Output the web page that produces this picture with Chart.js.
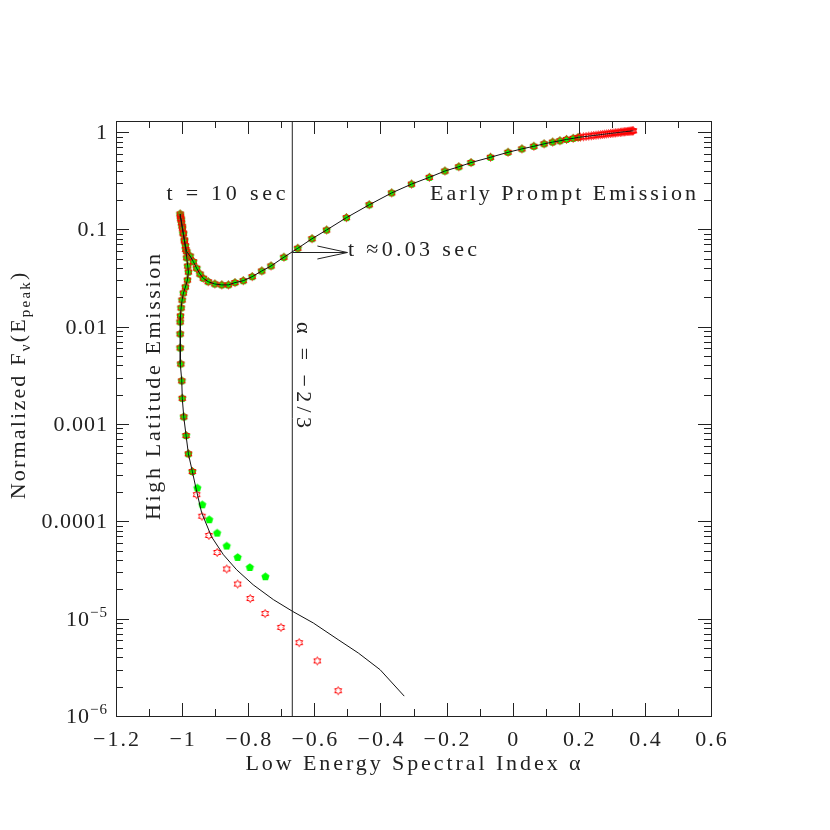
<!DOCTYPE html>
<html><head><meta charset="utf-8">
<script src="https://cdn.jsdelivr.net/npm/chart.js@4.4.1/dist/chart.umd.min.js"></script>
<style>html,body{margin:0;padding:0;background:#fff;}canvas{display:block;}</style>
</head><body>
<canvas id="c" width="830" height="830"></canvas>
<script>
// ---------------- data ----------------
// dense early points at top right (red stars only), right -> left
const denseAlpha = [0.365,0.363,0.361,0.358,0.355,0.352,0.349,0.346,0.342,0.338,0.334,0.330,0.326,0.321,0.316,0.311,0.306,0.301,0.296,0.290,0.284,0.278,0.272,0.266,0.259,0.252,0.245,0.238,0.230,0.222,0.214,0.205];
const denseFlux  = [1.032,1.030,1.028,1.026,1.023,1.020,1.018,1.015,1.011,1.008,1.004,1.000,0.996,0.992,0.987,0.982,0.978,0.973,0.969,0.963,0.958,0.952,0.947,0.941,0.935,0.929,0.923,0.917,0.909,0.902,0.895,0.888];
// early prompt branch (both marker series), right -> peak at t = 10 s
const promptAlpha = [0.198,0.183,0.163,0.143,0.121,0.095,0.064,0.028,-0.014,-0.067,-0.126,-0.163,-0.205,-0.252,-0.306,-0.366,-0.434,-0.503,-0.563,-0.607,-0.650,-0.692,-0.731,-0.759,-0.788,-0.815,-0.840,-0.860,-0.880,-0.901,-0.921,-0.936,-0.946,-0.956,-0.966,-0.976,-0.986,-0.990,-0.993,-0.996,-0.999,-1.002,-1.004,-1.006];
const promptFlux  = [0.882,0.862,0.841,0.814,0.789,0.757,0.715,0.672,0.620,0.551,0.486,0.440,0.398,0.343,0.292,0.237,0.179,0.132,0.0986,0.0802,0.0640,0.0518,0.0421,0.0374,0.0327,0.0297,0.0284,0.0269,0.0269,0.0275,0.0290,0.0315,0.0348,0.0399,0.0466,0.0533,0.0590,0.068,0.078,0.090,0.103,0.117,0.130,0.144];
// high latitude branch (both marker series): cusp and steep stem
const stemAlpha = [-1.005,-1.003,-1.000,-0.997,-0.993,-0.989,-0.986,-0.983,-0.981,-0.984,-0.990,-0.996,-1.000,-1.003,-1.005,-1.006,-1.006,-1.006,-1.004,-1.001,-0.9995,-0.995,-0.988,-0.981,-0.969];
const stemFlux  = [0.137,0.125,0.108,0.092,0.076,0.062,0.051,0.042,0.0365,0.0302,0.0256,0.0222,0.0188,0.0156,0.0129,0.0112,0.00844,0.00606,0.00415,0.00278,0.00184,0.001186,0.000762,0.000494,0.000325];
// tails where the series separate
const greenTailAlpha = [-0.954,-0.939,-0.918,-0.894,-0.865,-0.832,-0.795,-0.748];
const greenTailFlux  = [2.20e-4,1.48e-4,1.04e-4,7.58e-5,5.58e-5,4.26e-5,3.36e-5,2.70e-5];
const redTailAlpha = [-0.956,-0.940,-0.919,-0.894,-0.865,-0.832,-0.794,-0.749,-0.701,-0.646,-0.591,-0.528];
const redTailFlux  = [1.88e-4,1.13e-4,7.16e-5,4.79e-5,3.24e-5,2.27e-5,1.61e-5,1.13e-5,8.14e-6,5.67e-6,3.68e-6,1.82e-6];
const lineTailAlpha = [-0.957,-0.941,-0.911,-0.875,-0.835,-0.785,-0.724,-0.666,-0.603,-0.528,-0.467,-0.401,-0.328];
const lineTailFlux  = [2.11e-4,1.23e-4,6.95e-5,4.54e-5,3.18e-5,2.23e-5,1.57e-5,1.19e-5,9.03e-6,6.09e-6,4.44e-6,2.99e-6,1.60e-6];
// reference line alpha = -2/3 and arrow
const alphaSync = -2/3;
const arrowFlux = 0.058;
const arrowTipAlpha = -0.500;
// axes
const xMin = -1.2, xMax = 0.6, yMin = 1e-6, yMax = 1.3;
const xTickValues = [-1.2,-1,-0.8,-0.6,-0.4,-0.2,0,0.2,0.4,0.6];
const xTickLabels = ['\u22121.2','\u22121','\u22120.8','\u22120.6','\u22120.4','\u22120.2','0','0.2','0.4','0.6'];
const yTickValues = [1,0.1,0.01,0.001,0.0001,1e-5,1e-6];
const yTickLabels = [['1'],['0.1'],['0.01'],['0.001'],['0.0001'],['10','\u22125'],['10','\u22126']];

// ---------------- build datasets ----------------
const pts = (xs, ys) => xs.map((x, i) => ({x, y: ys[i]}));
const shared = pts(promptAlpha, promptFlux).concat(pts(stemAlpha, stemFlux));
const greenData = shared.concat(pts(greenTailAlpha, greenTailFlux));
const redData = pts(denseAlpha, denseFlux).concat(shared, pts(redTailAlpha, redTailFlux));
const lineData = pts(denseAlpha, denseFlux).concat(shared, pts(lineTailAlpha, lineTailFlux));
const syncData = [{x: alphaSync, y: yMin}, {x: alphaSync, y: yMax}];

// marker images
function pentagonImg(r, color) {
  const s = Math.ceil(2 * r + 2), c = document.createElement('canvas');
  c.width = c.height = s; const g = c.getContext('2d');
  g.fillStyle = color; g.beginPath();
  for (let i = 0; i < 5; i++) { const a = -Math.PI / 2 + i * 2 * Math.PI / 5; g.lineTo(s / 2 + r * Math.cos(a), s / 2 + r * Math.sin(a)); }
  g.closePath(); g.fill(); return c;
}
function hexagramImg(ro, ri, color) {
  const s = Math.ceil(2 * ro + 3), c = document.createElement('canvas');
  c.width = c.height = s; const g = c.getContext('2d');
  g.strokeStyle = color; g.lineWidth = 1; g.beginPath();
  for (let i = 0; i < 12; i++) { const r = i % 2 ? ri : ro; const a = -Math.PI / 2 + i * Math.PI / 6; g.lineTo(s / 2 + r * Math.cos(a), s / 2 + r * Math.sin(a)); }
  g.closePath(); g.stroke(); return c;
}
const pentImg = pentagonImg(4.3, '#00ff00');
const starImg = hexagramImg(4.0, 2.3, '#ff0000');

// ---------------- text helpers ----------------
const FONT = '"Liberation Serif", "Times New Roman", serif';
const INK = '#222';
function drawRich(ctx, segs, x, y, align, spacing) {
  let total = 0; const ws = [];
  segs.forEach((s, i) => {
    ctx.font = s.size + 'px ' + FONT; ctx.letterSpacing = '0px';
    const w = ctx.measureText(s.t).width + spacing * (s.t.length - 1) + (i < segs.length - 1 ? spacing : 0);
    ws.push(w); total += w;
  });
  let left = x; if (align === 'center') left = x - total / 2; else if (align === 'right') left = x - total;
  ctx.textAlign = 'left'; ctx.textBaseline = 'alphabetic';
  segs.forEach((s, i) => {
    ctx.font = s.size + 'px ' + FONT; ctx.letterSpacing = spacing + 'px';
    ctx.fillText(s.t, left, y + (s.dy || 0)); left += ws[i];
  });
  ctx.letterSpacing = '0px';
  return total;
}
function fitText(ctx, str, x, y, align, size, width) {
  ctx.font = size + 'px ' + FONT; ctx.letterSpacing = '0px';
  const w0 = ctx.measureText(str).width;
  const sp = width ? (width - w0) / (str.length - 1) : 0;
  return drawRich(ctx, [{t: str, size}], x, y, align, sp);
}

const axesPlugin = {
  id: 'axesPlugin',
  afterDraw(chart) {
    const {ctx, chartArea: a, scales: {x, y}} = chart;
    ctx.save();
    ctx.strokeStyle = INK; ctx.fillStyle = INK; ctx.lineWidth = 1;
    ctx.strokeRect(Math.round(a.left) + 0.5, Math.round(a.top) + 0.5, Math.round(a.right - a.left), Math.round(a.bottom - a.top));
    const tick = (x1, y1, x2, y2) => { ctx.beginPath(); ctx.moveTo(x1, y1); ctx.lineTo(x2, y2); ctx.stroke(); };
    const MAJ = 13, MIN = 7;
    for (let i = 0; i < xTickValues.length; i++) {
      const px = Math.round(x.getPixelForValue(xTickValues[i])) + 0.5;
      tick(px, a.bottom, px, a.bottom - MAJ); tick(px, a.top, px, a.top + MAJ);
      if (i < xTickValues.length - 1) {
        const mx = Math.round(x.getPixelForValue((xTickValues[i] + xTickValues[i + 1]) / 2)) + 0.5;
        tick(mx, a.bottom, mx, a.bottom - MIN); tick(mx, a.top, mx, a.top + MIN);
      }
    }
    for (let e = -6; e <= 0; e++) {
      for (let k = 1; k <= 9; k++) {
        const v = k * Math.pow(10, e);
        if (v < yMin * 0.999 || v > yMax) continue;
        const py = Math.round(y.getPixelForValue(v)) + 0.5;
        const len = k === 1 ? MAJ : MIN;
        tick(a.left, py, a.left + len, py); tick(a.right, py, a.right - len, py);
      }
    }
    xTickValues.forEach((v, i) => {
      drawRich(ctx, [{t: xTickLabels[i], size: 22}], x.getPixelForValue(v), a.bottom + 30, 'center', 2);
    });
    yTickValues.forEach((v, i) => {
      const lab = yTickLabels[i];
      const segs = [{t: lab[0], size: 22}];
      if (lab[1]) segs.push({t: lab[1], size: 15, dy: -9});
      drawRich(ctx, segs, a.left - 9, y.getPixelForValue(v) + 7, 'right', 1);
    });
    fitText(ctx, 'Low Energy Spectral Index \u03b1', (a.left + a.right) / 2 - 0.5, a.bottom + 54, 'center', 22, 335);
    ctx.save();
    ctx.translate(25, 386); ctx.rotate(-Math.PI / 2);
    drawRich(ctx, [{t: 'Normalized F', size: 22}, {t: '\u03bd', size: 15, dy: 5}, {t: '(E', size: 22}, {t: 'peak', size: 15, dy: 5}, {t: ')', size: 22}], 0, 0, 'center', 2.2);
    ctx.restore();
    fitText(ctx, 't = 10 sec', 226, 200, 'center', 22, 119);
    fitText(ctx, 'Early Prompt Emission', 430, 200, 'left', 22, 266);
    fitText(ctx, 't \u22480.03 sec', 348, 256, 'left', 22, 129);
    ctx.save(); ctx.translate(160, 387); ctx.rotate(-Math.PI / 2);
    fitText(ctx, 'High Latitude Emission', 0, 0, 'center', 22, 266);
    ctx.restore();
    ctx.save(); ctx.translate(x.getPixelForValue(alphaSync) + 5, 375); ctx.rotate(Math.PI / 2);
    fitText(ctx, '\u03b1 = \u22122/3', 0, 0, 'center', 22, 106);
    ctx.restore();
    const ax0 = x.getPixelForValue(alphaSync), ax1 = x.getPixelForValue(arrowTipAlpha);
    const ay = Math.round(y.getPixelForValue(arrowFlux)) + 0.5;
    tick(ax0, ay, ax1, ay);
    ctx.beginPath(); ctx.moveTo(ax1 - 30, ay - 6.5); ctx.lineTo(ax1, ay); ctx.lineTo(ax1 - 30, ay + 6.5); ctx.stroke();
    ctx.restore();
  }
};

new Chart(document.getElementById('c').getContext('2d'), {
  type: 'scatter',
  data: {datasets: [
    {label: 'model', data: lineData, showLine: true, borderColor: '#111', borderWidth: 1, pointRadius: 0, order: 0},
    {label: 'alpha -2/3', data: syncData, showLine: true, borderColor: '#222', borderWidth: 1, pointRadius: 0, order: 0},
    {label: 'red', data: redData, showLine: false, pointStyle: starImg, pointRadius: 4, order: 1},
    {label: 'green', data: greenData, showLine: false, pointStyle: pentImg, pointRadius: 4, order: 2}
  ]},
  options: {
    responsive: false, animation: false, devicePixelRatio: 1, events: [],
    layout: {padding: {left: 116, right: 119, top: 121, bottom: 114}},
    plugins: {legend: {display: false}, tooltip: {enabled: false}},
    scales: {
      x: {type: 'linear', min: xMin, max: xMax, display: false},
      y: {type: 'logarithmic', min: yMin, max: yMax, display: false}
    }
  },
  plugins: [axesPlugin]
});
</script>
</body></html>
